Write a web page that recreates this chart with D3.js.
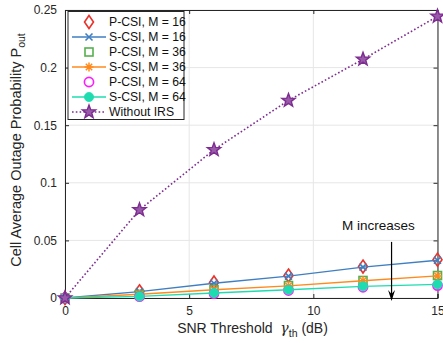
<!DOCTYPE html>
<html>
<head>
<meta charset="utf-8">
<script src="https://cdn.jsdelivr.net/npm/d3@7"></script>
<style>
  html, body { margin: 0; padding: 0; background: #fff; }
  svg { display: block; font-family: "Liberation Sans", Arial, Helvetica, sans-serif; }
</style>
</head>
<body>
<svg id="chart" width="443" height="343"></svg>
<script>
// SNR threshold values (dB)
const snrDb = [0, 3, 6, 9, 12, 15];

// Cell average outage probability for each scheme
const pcsiM16 = [0, 0.0058, 0.0135, 0.0195, 0.0273, 0.0333];
const scsiM16 = [0, 0.0055, 0.0128, 0.0190, 0.0268, 0.0328];
const pcsiM36 = [0, 0.0030, 0.0072, 0.0108, 0.0152, 0.0195];
const scsiM36 = [0, 0.0032, 0.0072, 0.0105, 0.0150, 0.0192];
const pcsiM64 = [0, 0.0012, 0.0038, 0.0065, 0.0093, 0.0108];
const scsiM64 = [0, 0.0014, 0.0044, 0.0071, 0.0101, 0.0118];
const withoutIrs = [0, 0.0765, 0.1287, 0.1715, 0.2072, 0.2445];

const xTicks = [0, 5, 10, 15];
const yTicks = [0, 0.05, 0.1, 0.15, 0.2, 0.25];
const yTickLabels = ["0", "0.05", "0.1", "0.15", "0.2", "0.25"];

const seriesNames = ["P-CSI, M = 16", "S-CSI, M = 16", "P-CSI, M = 36", "S-CSI, M = 36",
                     "P-CSI, M = 64", "S-CSI, M = 64", "Without IRS"];

const series = [
  { name: seriesNames[0], values: pcsiM16, color: "#e8332c", line: false, marker: "diamond" },
  { name: seriesNames[1], values: scsiM16, color: "#3f7fc1", line: true, marker: "cross" },
  { name: seriesNames[2], values: pcsiM36, color: "#55b04e", line: false, marker: "square" },
  { name: seriesNames[3], values: scsiM36, color: "#ff8a1c", line: true, marker: "asterisk" },
  { name: seriesNames[4], values: pcsiM64, color: "#ff1aff", line: false, marker: "circle" },
  { name: seriesNames[5], values: scsiM64, color: "#1fdcb0", line: true, marker: "dot" },
  { name: seriesNames[6], values: withoutIrs, color: "#7d2c90", line: true, dotted: true, marker: "star" }
];

const svg = d3.select("#chart");
const margin = { left: 65, right: 5, top: 10, bottom: 45 };
const W = 443, H = 343;
const x = d3.scaleLinear().domain([0, 15]).range([margin.left, W - margin.right - 0.5]);
const y = d3.scaleLinear().domain([0, 0.25]).range([H - margin.bottom, margin.top]);

const axisColor = "#262626";

// grid
const grid = svg.append("g");
grid.selectAll(".gx").data(xTicks).join("line")
  .attr("x1", d => x(d)).attr("x2", d => x(d))
  .attr("y1", y(0)).attr("y2", y(0.25))
  .attr("stroke", "#e6e6e6").attr("stroke-width", 1);
grid.selectAll(".gy").data(yTicks).join("line")
  .attr("x1", x(0)).attr("x2", x(15))
  .attr("y1", d => y(d)).attr("y2", d => y(d))
  .attr("stroke", "#e6e6e6").attr("stroke-width", 1);

// axes (inward ticks on all four sides)
const tickLen = 4;
const xAxisB = d3.axisBottom(x).tickValues(xTicks).tickSize(-tickLen).tickPadding(8).tickFormat(d3.format("d"));
const xAxisT = d3.axisTop(x).tickValues(xTicks).tickSize(-tickLen).tickFormat("");
const yAxisL = d3.axisLeft(y).tickValues(yTicks).tickSize(-tickLen).tickPadding(8)
  .tickFormat((d, i) => yTickLabels[i]);
const yAxisR = d3.axisRight(y).tickValues(yTicks).tickSize(-tickLen).tickFormat("");

function styleAxis(g) {
  g.select(".domain").attr("stroke", axisColor).attr("stroke-width", 1);
  g.selectAll(".tick line").attr("stroke", axisColor);
  g.selectAll(".tick text").attr("fill", axisColor).attr("font-size", 12)
    .attr("font-family", "Liberation Sans, Arial, sans-serif");
}
svg.append("g").attr("transform", `translate(0,${y(0)})`).call(xAxisB).call(styleAxis);
svg.append("g").attr("transform", `translate(0,${y(0.25)})`).call(xAxisT).call(styleAxis);
svg.append("g").attr("transform", `translate(${x(0)},0)`).call(yAxisL).call(styleAxis);
svg.append("g").attr("transform", `translate(${x(15)},0)`).call(yAxisR).call(styleAxis);

// marker shapes
function drawMarker(g, type, color, cx, cy) {
  const m = g.append("g").attr("transform", `translate(${cx},${cy})`);
  if (type === "diamond") {
    m.append("path").attr("d", "M0,-6.5L4.5,0L0,6.5L-4.5,0Z")
      .attr("fill", "none").attr("stroke", color).attr("stroke-width", 1.6);
  } else if (type === "cross") {
    m.append("path").attr("d", "M-3.5,-3.5L3.5,3.5M-3.5,3.5L3.5,-3.5")
      .attr("stroke", color).attr("stroke-width", 1.6);
  } else if (type === "square") {
    m.append("rect").attr("x", -4).attr("y", -4).attr("width", 8).attr("height", 8)
      .attr("fill", "none").attr("stroke", color).attr("stroke-width", 1.6);
  } else if (type === "asterisk") {
    m.append("path").attr("d", "M-4.5,0L4.5,0M0,-4.5L0,4.5M-3.2,-3.2L3.2,3.2M-3.2,3.2L3.2,-3.2")
      .attr("stroke", color).attr("stroke-width", 1.5);
  } else if (type === "circle") {
    m.append("circle").attr("r", 4.6)
      .attr("fill", "none").attr("stroke", color).attr("stroke-width", 1.6);
  } else if (type === "dot") {
    m.append("circle").attr("r", 4.6).attr("fill", color).attr("stroke", color).attr("stroke-width", 0.8);
  } else if (type === "star") {
    const pts = [];
    for (let i = 0; i < 10; i++) {
      const r = i % 2 === 0 ? 7 : 2.9;
      const a = -Math.PI / 2 + i * Math.PI / 5;
      pts.push([r * Math.cos(a), r * Math.sin(a)]);
    }
    m.append("path").attr("d", "M" + pts.map(p => p.join(",")).join("L") + "Z")
      .attr("fill", "#9a5aaa").attr("stroke", color).attr("stroke-width", 1.4)
      .attr("stroke-linejoin", "miter");
  }
}

// series lines and markers
const lineGen = d3.line().x((d, i) => x(snrDb[i])).y(d => y(d));
const plot = svg.append("g");
series.forEach(s => {
  if (s.line) {
    plot.append("path").datum(s.values).attr("d", lineGen)
      .attr("fill", "none").attr("stroke", s.color)
      .attr("stroke-width", s.dotted ? 1.6 : 1.4)
      .attr("stroke-dasharray", s.dotted ? "1.6,2.2" : null);
  }
  s.values.forEach((v, i) => drawMarker(plot, s.marker, s.color, x(snrDb[i]), y(v)));
});

// annotation arrow
const arrowX = x(13.15);
svg.append("line").attr("x1", arrowX).attr("x2", arrowX)
  .attr("y1", y(0.0487)).attr("y2", y(0) + 1)
  .attr("stroke", "#000").attr("stroke-width", 1.2);
svg.append("path")
  .attr("d", `M${arrowX - 3.5},${y(0) - 8}L${arrowX},${y(0) + 3}L${arrowX + 3.5},${y(0) - 8}L${arrowX},${y(0) - 4}Z`)
  .attr("fill", "#000");
svg.append("text").attr("x", x(12.62)).attr("y", y(0.0587))
  .attr("text-anchor", "middle").attr("font-size", 13.5).attr("fill", "#111")
  .text("M increases");

// axis titles
const xt = svg.append("text").attr("x", x(7.55)).attr("y", 333)
  .attr("text-anchor", "middle").attr("font-size", 14).attr("fill", axisColor)
  .attr("xml:space", "preserve");
xt.append("tspan").text("SNR Threshold  ");
xt.append("tspan").attr("font-family", "DejaVu Serif, serif").attr("font-style", "italic").text("γ");
xt.append("tspan").attr("font-size", 10.5).attr("dy", 4).text("th");
xt.append("tspan").attr("dy", -4).text(" (dB)");

const yt = svg.append("text")
  .attr("transform", `translate(21,${(y(0) + y(0.25)) / 2 - 4}) rotate(-90)`)
  .attr("text-anchor", "middle").attr("font-size", 14.5).attr("fill", axisColor);
yt.append("tspan").text("Cell Average Outage Probability P");
yt.append("tspan").attr("font-size", 10.5).attr("dy", 4).text("out");

// legend
const lg = svg.append("g").attr("transform", "translate(68,11.5)");
lg.append("rect").attr("width", 116).attr("height", 108)
  .attr("fill", "#fff").attr("stroke", axisColor).attr("stroke-width", 1);
series.forEach((s, i) => {
  const cy = 10.5 + i * 15;
  if (s.line) {
    lg.append("line").attr("x1", 4).attr("x2", 38).attr("y1", cy).attr("y2", cy)
      .attr("stroke", s.color).attr("stroke-width", s.dotted ? 1.6 : 1.4)
      .attr("stroke-dasharray", s.dotted ? "1.6,2.2" : null);
  }
  drawMarker(lg, s.marker, s.color, 21, cy);
  lg.append("text").attr("x", 41).attr("y", cy + 4.2)
    .attr("font-size", 12.2).attr("fill", "#111").text(s.name);
});
</script>
</body>
</html>
